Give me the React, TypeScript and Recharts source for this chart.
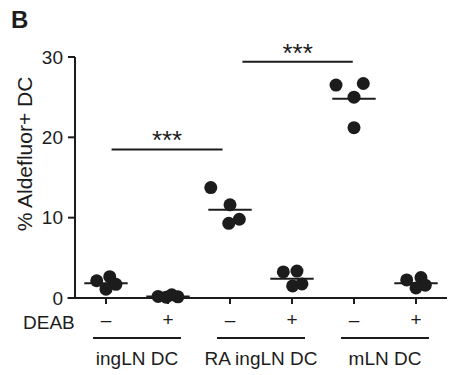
import { ComposedChart, ReferenceLine, Scatter, XAxis, YAxis } from 'recharts'

const FONT = '"Liberation Sans", Arial, Helvetica, sans-serif'
const INK = '#1c1c1c'

// one entry per column, left to right
const deabSigns = ['–', '+', '–', '+', '–', '+']
const groupNames = ['ingLN DC', 'RA ingLN DC', 'mLN DC']
const groupCenters = [1.5, 3.5, 5.5]
const yTicks = [0, 10, 20, 30]

const pointValues = [
  [2.15, 2.65, 1.7, 1.1],
  [0.2, 0.1, 0.4, 0.15],
  [13.75, 11.6, 9.8, 9.3],
  [3.25, 3.35, 1.5, 1.75],
  [26.5, 26.7, 25.0, 21.2],
  [2.25, 2.55, 1.6, 1.25],
]
// horizontal scatter of the dots, in column units
const pointJitter = [
  [-0.15, 0.06, 0.16, 0.0],
  [-0.16, -0.03, 0.06, 0.16],
  [-0.31, 0.0, 0.15, -0.02],
  [-0.14, 0.08, 0.01, 0.16],
  [-0.29, 0.15, 0.0, 0.0],
  [-0.15, 0.08, 0.15, 0.0],
]
const groupMeans = [1.85, 0.2, 11.0, 2.4, 24.8, 1.85]

const sigFrom = [1.09, 3.2]
const sigTo = [2.88, 4.98]
const sigLevel = [18.5, 29.4]
const sigText = ['***', '***']

const points = pointValues.flatMap((vals, i) => vals.map((v, j) => ({ x: i + 1 + pointJitter[i][j], y: v })))
const groupAnchors = groupCenters.map((x) => ({ x, y: 0 }))

function Dot(props: any) {
  return <circle cx={props.cx} cy={props.cy} r={6.5} fill={INK} />
}

function DeabTick({ x, y, payload }: any) {
  return (
    <text x={x} y={y + 22} textAnchor="middle" fontSize={19} fill={INK} fontFamily={FONT}>
      {deabSigns[payload.value - 1]}
    </text>
  )
}

function GroupTick({ x, y, payload }: any) {
  const i = groupCenters.indexOf(payload.value)
  return (
    <g>
      <line x1={x - 44} x2={x + 44} y1={y + 8} y2={y + 8} stroke={INK} strokeWidth={2} />
      <text x={x} y={y + 35} textAnchor="middle" fontSize={19} fill={INK} fontFamily={FONT}>
        {groupNames[i]}
      </text>
    </g>
  )
}

export default function App() {
  return (
    <div style={{ position: 'absolute', left: 0, top: 0, background: '#fff' }}>
      <ComposedChart width={449} height={375} margin={{ top: 57, right: 2, bottom: 0, left: 0 }}>
        <XAxis
          xAxisId="deab"
          type="number"
          dataKey="x"
          domain={[0.5, 6.5]}
          ticks={[1, 2, 3, 4, 5, 6]}
          height={32}
          tickSize={6}
          tickMargin={0}
          axisLine={{ stroke: INK, strokeWidth: 2 }}
          tickLine={{ stroke: INK, strokeWidth: 2 }}
          tick={<DeabTick />}
        />
        <XAxis
          xAxisId="grp"
          type="number"
          dataKey="x"
          domain={[0.5, 6.5]}
          ticks={groupCenters}
          height={45}
          tickSize={0}
          tickMargin={0}
          axisLine={false}
          tickLine={false}
          tick={<GroupTick />}
        />
        <YAxis
          type="number"
          dataKey="y"
          domain={[0, 30]}
          ticks={yTicks}
          width={75}
          tickSize={7}
          tickMargin={5}
          axisLine={{ stroke: INK, strokeWidth: 2 }}
          tickLine={{ stroke: INK, strokeWidth: 2 }}
          tick={{ fontSize: 19, fill: INK, fontFamily: FONT }}
        />
        <ReferenceLine
          xAxisId="deab"
          ifOverflow="visible"
          segment={[{ x: 0.38, y: 0 }, { x: 0.5, y: 0 }]}
          stroke={INK}
          strokeWidth={2}
        />
        {groupMeans.map((m, i) => (
          <ReferenceLine
            key={'m' + i}
            xAxisId="deab"
            segment={[{ x: i + 0.65, y: m }, { x: i + 1.35, y: m }]}
            stroke={INK}
            strokeWidth={2}
          />
        ))}
        {sigLevel.map((lv, i) => (
          <ReferenceLine
            key={'s' + i}
            xAxisId="deab"
            segment={[{ x: sigFrom[i], y: lv }, { x: sigTo[i], y: lv }]}
            stroke={INK}
            strokeWidth={2}
            label={{ value: sigText[i], position: 'top', offset: 0, fontSize: 26, fill: INK, fontFamily: FONT }}
          />
        ))}
        <Scatter xAxisId="grp" data={groupAnchors} shape={() => null} isAnimationActive={false} />
        <Scatter xAxisId="deab" data={points} shape={<Dot />} isAnimationActive={false} />
        <text x={11} y={28} fontSize={24} fontWeight="bold" fill={INK} fontFamily={FONT}>B</text>
        <text x={23} y={329} fontSize={19} fill={INK} fontFamily={FONT}>DEAB</text>
        <text
          x={32}
          y={154}
          transform="rotate(-90 32 154)"
          textAnchor="middle"
          fontSize={21}
          fill={INK}
          fontFamily={FONT}
        >
          % Aldefluor+ DC
        </text>
      </ComposedChart>
    </div>
  )
}
